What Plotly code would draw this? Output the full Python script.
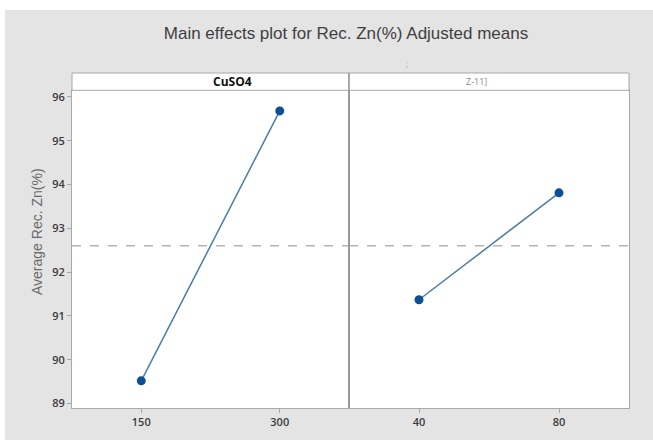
import plotly.graph_objects as go

# Data
cuso4_levels = [150, 300]
cuso4_means = [89.52, 95.68]
f2_levels = [40, 80]
f2_means = [91.37, 93.81]
grand_mean = 92.6
y_ticks = [89, 90, 91, 92, 93, 94, 95, 96]
panel_labels = ["CuSO4", "Z-11]"]

W, H = 653, 440
ml, mr, mt, mb = 72, 24, 73, 32
plot_w = W - ml - mr
plot_h = H - mt - mb
split = (349 - ml) / plot_w
ytop = (407.7 - 90) / plot_h

def px_x(px):
    return (px - ml) / plot_w

def px_y(py):
    return (H - mb - py) / plot_h

line_col = "#4a7ca6"
mark_col = "#0d4f94"
frame_col = "#a8a8a8"

fig = go.Figure()
fig.add_trace(go.Scatter(x=cuso4_levels, y=cuso4_means, mode="lines+markers",
                         line=dict(color=line_col, width=1.5),
                         marker=dict(color=mark_col, size=9),
                         xaxis="x", yaxis="y", showlegend=False))
fig.add_trace(go.Scatter(x=f2_levels, y=f2_means, mode="lines+markers",
                         line=dict(color=line_col, width=1.5),
                         marker=dict(color=mark_col, size=9),
                         xaxis="x2", yaxis="y2", showlegend=False))
# grand mean reference line
fig.add_trace(go.Scatter(x=[75, 375], y=[grand_mean, grand_mean], mode="lines",
                         line=dict(color="#b4b4b4", width=1.5, dash="dash"),
                         xaxis="x", yaxis="y", showlegend=False, hoverinfo="skip"))
fig.add_trace(go.Scatter(x=[20, 100], y=[grand_mean, grand_mean], mode="lines",
                         line=dict(color="#b4b4b4", width=1.5, dash="dash"),
                         xaxis="x2", yaxis="y2", showlegend=False, hoverinfo="skip"))

tickfont = dict(family="Open Sans, Noto Sans, sans-serif", size=11, color="#3a3a3a", weight=600)
yrange = [88.9, 96.15]
common_x = dict(showline=True, linecolor=frame_col, mirror=True, ticks="outside",
                ticklen=4, tickcolor=frame_col, showgrid=False, zeroline=False,
                tickfont=tickfont)
fig.update_layout(
    width=W, height=H,
    margin=dict(l=ml, r=mr, t=mt, b=mb),
    paper_bgcolor="#e4e4e4", plot_bgcolor="white",
    xaxis=dict(domain=[0, split], range=[75, 375], tickvals=cuso4_levels,
               anchor="y", **common_x),
    xaxis2=dict(domain=[split, 1], range=[20, 100], tickvals=f2_levels,
                anchor="y2", **common_x),
    yaxis=dict(domain=[0, ytop], range=yrange, tickvals=y_ticks, anchor="x",
               showline=True, linecolor=frame_col, mirror=True, ticks="outside",
               ticklen=4, tickcolor=frame_col, showgrid=False, zeroline=False,
               tickfont=tickfont),
    yaxis2=dict(domain=[0, ytop], range=yrange, anchor="x2", matches="y",
                showticklabels=False, showline=True, linecolor=frame_col, mirror=True,
                ticks="", showgrid=False, zeroline=False),
    title=dict(text="Main effects plot for Rec. Zn(%) Adjusted means",
               x=(346) / W, xanchor="center", y=1 - 33 / H, yanchor="middle",
               font=dict(family="Liberation Sans, Arial, sans-serif", size=17, color="#404040")),
)

# y-axis title
fig.add_annotation(xref="paper", yref="paper", x=px_x(37), y=px_y(232),
                   text="Average Rec. Zn(%)", textangle=-90, showarrow=False,
                   xanchor="center", yanchor="middle",
                   font=dict(family="Liberation Sans, Arial, sans-serif", size=14, color="#6a6a6a"))

# white strip at top / left (outside the gray frame)
fig.add_shape(type="rect", xref="paper", yref="paper",
              x0=px_x(0), x1=px_x(W), y0=px_y(10), y1=px_y(0),
              fillcolor="white", line=dict(width=0), layer="below")
fig.add_shape(type="rect", xref="paper", yref="paper",
              x0=px_x(0), x1=px_x(5), y0=px_y(H), y1=px_y(0),
              fillcolor="white", line=dict(width=0), layer="below")

# header strips
for x0, x1, lab, bold in [(0, split, panel_labels[0], True), (split, 1, panel_labels[1], False)]:
    fig.add_shape(type="rect", xref="paper", yref="paper", x0=x0, x1=x1,
                  y0=ytop, y1=1, fillcolor="white", line=dict(color=frame_col, width=1))
    fig.add_annotation(xref="paper", yref="paper", x=(x0 + x1) / 2, y=(ytop + 1) / 2,
                       text=f"<b>{lab}</b>" if bold else lab, showarrow=False,
                       font=dict(family="Open Sans, sans-serif",
                                 size=12 if bold else 9,
                                 color="#111" if bold else "#888"),
                       yanchor="middle")
# panel divider
fig.add_shape(type="line", xref="paper", yref="paper", x0=split, x1=split, y0=0, y1=1,
              line=dict(color="#8a8a8a", width=1))
# faint mark under title
fig.add_annotation(xref="paper", yref="paper", x=px_x(407), y=px_y(55), text=";",
                   showarrow=False, font=dict(size=9, color="#aaaaaa"))

fig.write_html("out.html")
